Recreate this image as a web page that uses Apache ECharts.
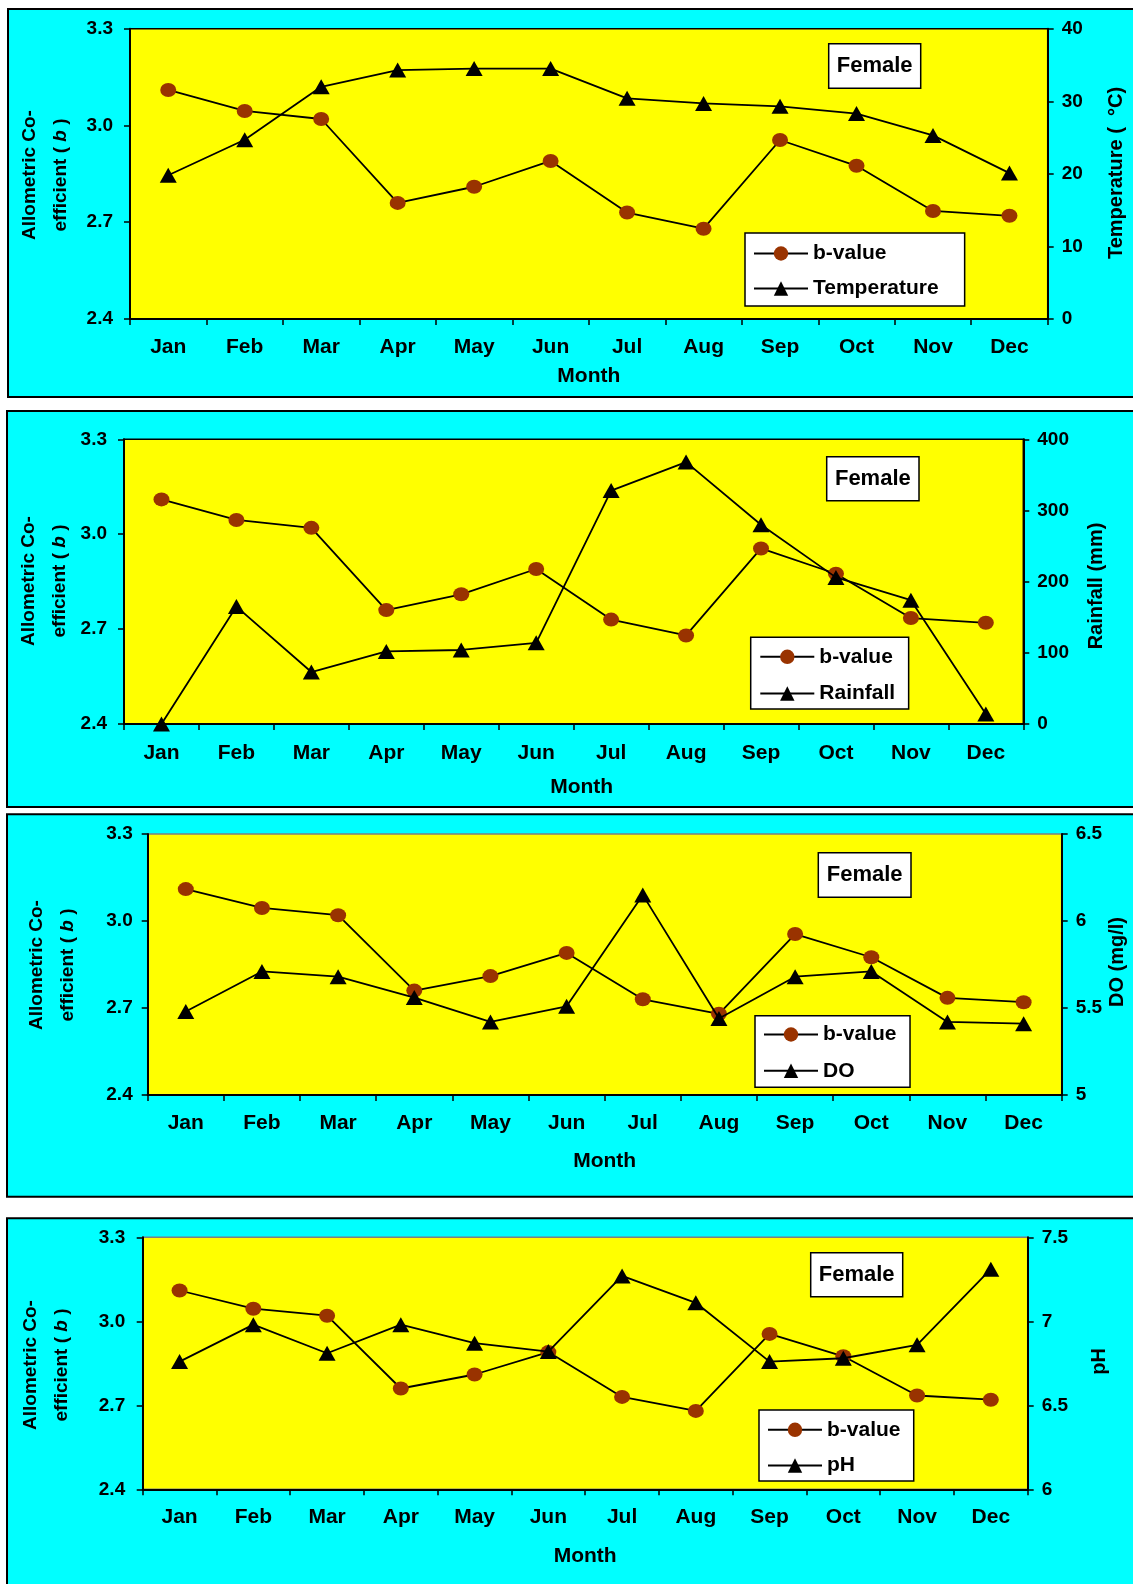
<!DOCTYPE html>
<html><head><meta charset="utf-8">
<script src="https://cdn.jsdelivr.net/npm/echarts@6/dist/echarts.min.js"></script>
<style>html,body{margin:0;padding:0;background:#fff}#c{width:1133px;height:1584px}</style>
</head><body><div id="c"></div>
<script>
// ---- data ----
const months = ['Jan','Feb','Mar','Apr','May','Jun','Jul','Aug','Sep','Oct','Nov','Dec'];
const bValue = [3.11, 3.045, 3.02, 2.76, 2.81, 2.89, 2.73, 2.68, 2.955, 2.875, 2.735, 2.72];
const temperature = [19.8, 24.7, 32.0, 34.3, 34.5, 34.5, 30.4, 29.7, 29.3, 28.3, 25.3, 20.1];
const rainfall = [0, 165, 73, 102, 104, 114, 328, 368, 280, 206, 174, 14];
const dissolvedOxygen = [5.48, 5.71, 5.68, 5.56, 5.42, 5.51, 6.15, 5.44, 5.68, 5.71, 5.42, 5.41];
const pHValues = [6.76, 6.98, 6.81, 6.98, 6.87, 6.82, 7.27, 7.11, 6.76, 6.78, 6.86, 7.31];
const bAxisRange = [2.4, 3.3, 0.3];
const temperatureAxisRange = [0, 40, 10];
const rainfallAxisRange = [0, 400, 100];
const doAxisRange = [5, 6.5, 0.5];
const pHAxisRange = [6, 7.5, 0.5];

// ---- layout ----
const FONT = '"Liberation Sans", Arial, Helvetica, sans-serif';
const panels = [
  {frame:[8,9,1140,388], grid:[130,28.7,917.7,290.3], gridBorder:'#000',
   range:temperatureAxisRange, param:'Temperature', data:temperature, rightName:'Temperature (  °C)',
   leftNamePos:[45,175], rightNamePos:[1116.7,173], monthGap:47, monthShift:0, labelMargin:17.5, leftMargin:17,
   legend:{left:745, top:233, padding:[10,26,7,8], itemGap:14},
   female:[828.7,43.7,92,44.6]},
  {frame:[7,411,1140,396], grid:[124,439.3,899.3,284.7], gridBorder:'#000',
   range:rainfallAxisRange, param:'Rainfall', data:rainfall, rightName:'Rainfall (mm)',
   leftNamePos:[44,581], rightNamePos:[1096.5,586], monthGap:53, monthShift:16, labelMargin:18.5, leftMargin:17,
   legend:{left:750.7, top:637.3, padding:[9,13.5,5,8.6], itemGap:15.7},
   female:[826.7,456.7,92.3,44]},
  {frame:[7,814.3,1140,382.4], grid:[147.7,834,914,261], gridBorder:'#7f7f7f',
   range:doAxisRange, param:'DO', data:dissolvedOxygen, rightName:'DO (mg/l)',
   leftNamePos:[52,965], rightNamePos:[1117,962], monthGap:56, monthShift:0, labelMargin:17.5, leftMargin:15,
   legend:{left:755, top:1015.7, padding:[8.3,13.5,6,8], itemGap:15.3},
   female:[818.3,852.7,92.7,44.6]},
  {frame:[7,1218.3,1140,400], grid:[142.7,1237.3,885,252], gridBorder:'#7f7f7f',
   range:pHAxisRange, param:'pH', data:pHValues, rightName:'pH',
   leftNamePos:[46,1365], rightNamePos:[1099,1361.5], monthGap:56, monthShift:0, labelMargin:17.5, leftMargin:17.5,
   legend:{left:759, top:1410, padding:[9.3,13.2,5,8], itemGap:14.7},
   female:[810.7,1252.7,92,44]}
];

const txt = {color:'#000', fontFamily:FONT, fontWeight:'bold'};
const grid = [], xAxis = [], yAxis = [], series = [], legend = [], graphic = [];

panels.forEach((p, i) => {
  graphic.push({type:'rect', z:-10, shape:{x:p.frame[0], y:p.frame[1], width:p.frame[2], height:p.frame[3]},
    style:{fill:'#00FFFF', stroke:'#000', lineWidth:2}});
  grid.push({left:p.grid[0], top:p.grid[1], width:p.grid[2], height:p.grid[3], show:true,
    backgroundColor:'#FFFF00', borderColor:p.gridBorder, borderWidth:1.5, containLabel:false});
  xAxis.push({type:'category', gridIndex:i, data:months, boundaryGap:true,
    axisLine:{show:true, lineStyle:{color:'#000', width:2}},
    axisTick:{show:true, length:6, interval:0, lineStyle:{color:'#000', width:1.5}},
    axisLabel:Object.assign({interval:0, margin:p.labelMargin, fontSize:21}, txt),
    splitLine:{show:false},
    name:'Month', nameLocation:'middle', nameGap:p.monthGap,
    nameTextStyle:Object.assign({fontSize:21, padding:[0,0,0,p.monthShift]}, txt)});
  yAxis.push({type:'value', gridIndex:i, position:'left', min:bAxisRange[0], max:bAxisRange[1], interval:bAxisRange[2],
    splitLine:{show:false},
    axisLine:{show:true, lineStyle:{color:'#000', width:2}},
    axisTick:{show:true, length:6, lineStyle:{color:'#000', width:1.5}},
    axisLabel:Object.assign({margin:p.leftMargin, fontSize:19, formatter:v => v.toFixed(1)}, txt)});
  yAxis.push({type:'value', gridIndex:i, position:'right', min:p.range[0], max:p.range[1], interval:p.range[2],
    splitLine:{show:false},
    axisLine:{show:true, lineStyle:{color:'#000', width:2}},
    axisTick:{show:true, length:6, lineStyle:{color:'#000', width:1.5}},
    axisLabel:Object.assign({margin:14, fontSize:19}, txt)});
  series.push({name:'b-value', type:'line', xAxisIndex:i, yAxisIndex:2*i, data:bValue,
    symbol:'circle', symbolSize:[16,14], itemStyle:{color:'#993300', borderWidth:0},
    lineStyle:{color:'#000', width:1.8}, z:2});
  series.push({name:p.param, type:'line', xAxisIndex:i, yAxisIndex:2*i+1, data:p.data,
    symbol:'triangle', symbolSize:[17,15], itemStyle:{color:'#000', borderWidth:0},
    lineStyle:{color:'#000', width:1.8}, z:3});
  legend.push({orient:'vertical', left:p.legend.left, top:p.legend.top, padding:p.legend.padding,
    itemGap:p.legend.itemGap, itemWidth:54, itemHeight:18, selectedMode:false,
    backgroundColor:'#fff', borderColor:'#000', borderWidth:1.5, borderRadius:0,
    data:['b-value', p.param], textStyle:Object.assign({fontSize:21}, txt)});
  const f = p.female;
  graphic.push({type:'rect', z:50, shape:{x:f[0], y:f[1], width:f[2], height:f[3]},
    style:{fill:'#fff', stroke:'#000', lineWidth:1.5}});
  graphic.push({type:'text', z:51, x:f[0]+f[2]/2, y:f[1]+f[3]/2,
    style:{text:'Female', x:0, y:0, align:'center', verticalAlign:'middle', fill:'#000',
      fontFamily:FONT, fontWeight:'bold', fontSize:22}});
  graphic.push({type:'text', z:51, x:p.leftNamePos[0], y:p.leftNamePos[1], rotation:Math.PI/2,
    style:{text:'Allometric Co-\nefficient ( {i|b} )', x:0, y:0, align:'center', verticalAlign:'middle',
      fill:'#000', fontFamily:FONT, fontWeight:'bold', fontSize:19, lineHeight:31,
      rich:{i:{fontStyle:'italic', fontWeight:'bold', fontFamily:FONT, fontSize:19, fill:'#000', lineHeight:31}}}});
  graphic.push({type:'text', z:51, x:p.rightNamePos[0], y:p.rightNamePos[1], rotation:Math.PI/2,
    style:{text:p.rightName, x:0, y:0, align:'center', verticalAlign:'middle',
      fill:'#000', fontFamily:FONT, fontWeight:'bold', fontSize:20}});
});

const chart = echarts.init(document.getElementById('c'), null, {renderer:'canvas'});
chart.setOption({animation:false, backgroundColor:'#fff', grid, xAxis, yAxis, series, legend, graphic});
</script>
</body></html>
